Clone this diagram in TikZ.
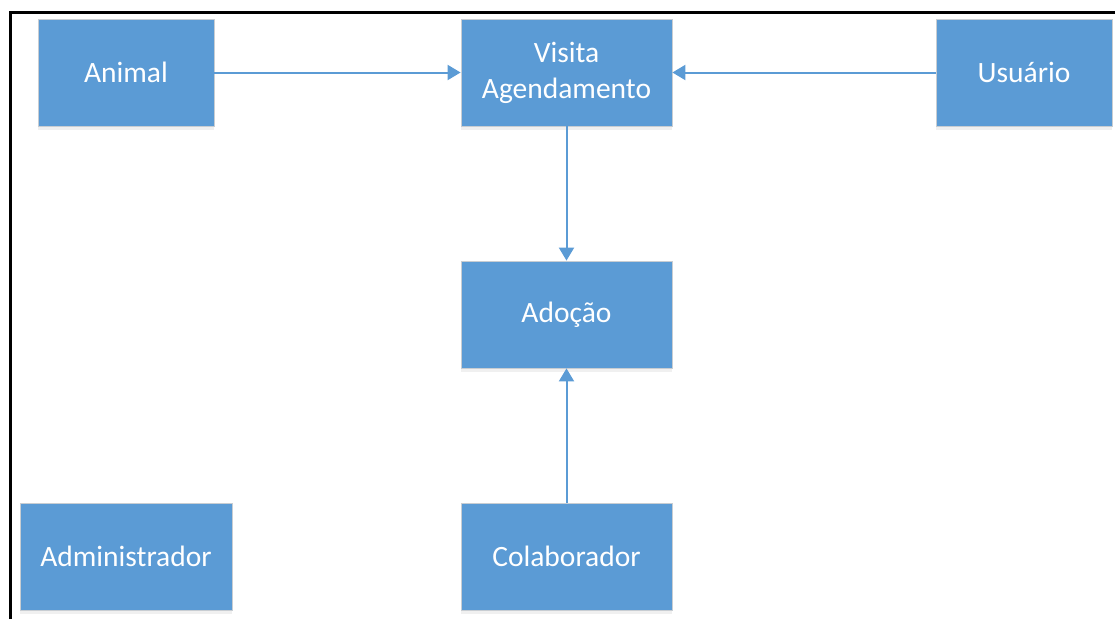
\documentclass[tikz,border=0pt]{standalone}
\usepackage{fontspec}
\setmainfont{Carlito}
\usepackage{tikz}
\usetikzlibrary{arrows.meta, positioning, shadows}
\definecolor{boxblue}{RGB}{91,155,213}
\definecolor{boxedge}{RGB}{200,205,210}

\tikzset{
	entity/.style={rectangle, fill=boxblue, draw=boxedge, line width=0.8pt, text=white,
		minimum height=107pt, align=center, inner sep=0pt,
		font=\fontsize{29.5}{36}\selectfont,
		drop shadow={opacity=0.12, shadow xshift=0pt, shadow yshift=-4pt}},
	link/.style={boxblue, line width=2pt, -{Triangle[length=13pt, width=15pt]}}
}

\begin{document}
\begin{tikzpicture}[x=1pt, y=1pt]
		\useasboundingbox (0,0) rectangle (1115,-619);
		\draw [line width=3pt] (10,-619)--(10,-12)--(1115,-12);
		\node [entity, minimum width=176pt] (animal) at (126,-72.5) {Animal};
		\node [entity, minimum width=211pt] (visita) at (566.5,-72.5) {Visita\\Agendamento};
		\node [entity, minimum width=176pt] (usuario) at (1024,-72.5) {Usuário};
		\node [entity, minimum width=211pt] (adocao) at (566.5,-314.5) {Adoção};
		\node [entity, minimum width=212pt] (admin) at (126,-556.5) {Administrador};
		\node [entity, minimum width=211pt] (colab) at (566.5,-556.5) {Colaborador};
		\draw [link] (animal) -- (visita);
		\draw [link] (usuario) -- (visita);
		\draw [link] (visita) -- (adocao);
		\draw [link] (colab) -- (adocao);
	\end{tikzpicture}
\end{document}
